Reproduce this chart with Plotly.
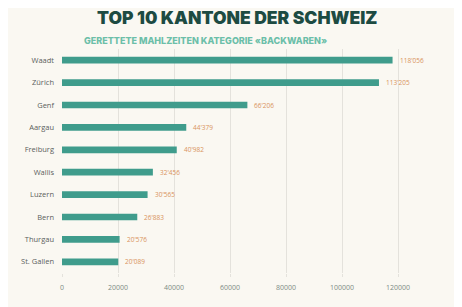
import plotly.graph_objects as go

cantons = ["Waadt", "Zürich", "Genf", "Aargau", "Freiburg", "Wallis", "Luzern", "Bern", "Thurgau", "St. Gallen"]
values = [118056, 113205, 66206, 44379, 40982, 32456, 30565, 26883, 20576, 20089]
value_labels = ["118'056", "113'205", "66'206", "44'379", "40'982", "32'456", "30'565", "26'883", "20'576", "20'089"]
x_ticks = [0, 20000, 40000, 60000, 80000, 100000, 120000]

OFF = 8  # page body margin
W, H = 462 - OFF, 307 - OFF
L = 61.5 - OFF
T = 49 - OFF
pw = 379
ph = 224
R = W - L - pw
B = H - T - ph

def px_x(p):
    return (p - OFF - L) / pw

def px_y(p):
    return (T + ph - (p - OFF)) / ph

fig = go.Figure(go.Bar(
    x=values, y=cantons, orientation="h",
    marker=dict(color="#3f9c8c", line=dict(width=0)),
    width=0.3,
    hoverinfo="skip",
))

for v, c, lab in zip(values, cantons, value_labels):
    fig.add_annotation(x=v, y=c, text=lab, showarrow=False, xanchor="left", xshift=5,
                       font=dict(family="Open Sans", size=6.5, color="#d9935c"))

fig.add_annotation(xref="paper", yref="paper", x=px_x(237), y=px_y(17), text="TOP 10 KANTONE DER SCHWEIZ",
                   showarrow=False, xanchor="center", yanchor="middle",
                   font=dict(family="Inter", size=17.5, color="#1d4b42", weight=900))
fig.add_annotation(xref="paper", yref="paper", x=px_x(205), y=px_y(40), text="GERETTETE MAHLZEITEN KATEGORIE «BACKWAREN»",
                   showarrow=False, xanchor="center", yanchor="middle",
                   font=dict(family="Inter", size=9, color="#6cbfa9", weight=800))

fig.update_layout(
    width=W, height=H,
    margin=dict(l=L, r=R, t=T, b=B, autoexpand=False),
    paper_bgcolor="#faf8f2", plot_bgcolor="rgba(0,0,0,0)",
    showlegend=False,
    xaxis=dict(range=[0, 135000], tickvals=x_ticks, ticktext=[str(t) for t in x_ticks],
               showgrid=True, gridcolor="#e4e2dc", gridwidth=1, zeroline=False,
               ticks="outside", ticklen=3, tickcolor="#e4e2dc", automargin=False,
               tickfont=dict(family="Open Sans", size=7, color="#7d8c85"),
               ticklabelstandoff=5, showline=False),
    yaxis=dict(showgrid=False, zeroline=False, automargin=False,
               tickfont=dict(family="Open Sans", size=7.5, color="#5a5f5d"),
               ticklabelstandoff=7, range=[9.5, -0.5]),
)

fig.write_html("out.html")
